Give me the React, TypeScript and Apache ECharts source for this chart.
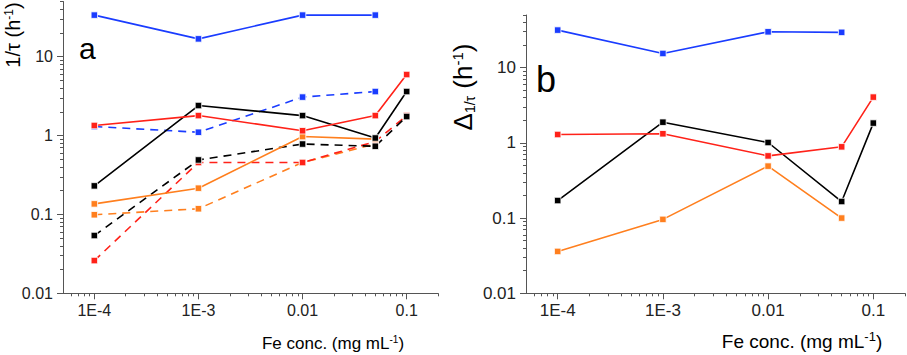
import React, { useEffect, useRef } from "react";
import * as echarts from "echarts";

// Fe concentration (mg/mL)
const conc = [1e-4, 1e-3, 0.01, 0.05, 0.1];

// tick values / labels
const xMajorTicks = [1e-4, 1e-3, 0.01, 0.1];
const xTickLabels = ["1E-4", "1E-3", "0.01", "0.1"];
const xMinorTicks = [6e-5, 7e-5, 8e-5, 9e-5, 2e-4, 3e-4, 4e-4, 5e-4, 6e-4, 7e-4, 8e-4, 9e-4, 2e-3, 3e-3, 4e-3, 5e-3, 6e-3, 7e-3, 8e-3, 9e-3, 0.02, 0.03, 0.04, 0.05, 0.06, 0.07, 0.08, 0.09, 0.2];
const yMajorTicks = [0.01, 0.1, 1, 10];
const yTickLabels = ["0.01", "0.1", "1", "10"];
const yMinorTicks = [0.02, 0.03, 0.04, 0.05, 0.06, 0.07, 0.08, 0.09, 0.2, 0.3, 0.4, 0.5, 0.6, 0.7, 0.8, 0.9, 2, 3, 4, 5, 6, 7, 8, 9, 20, 30, 40, 50];

// panel a : 1/tau (h^-1)
const aBlueSolid = [33.6, 16.8, 33.6, 33.6, null];
const aBlueDash = [1.3, 1.1, 3.07, 3.61, null];
const aRedSolid = [1.34, 1.79, 1.15, 1.79, 5.93];
const aRedDash = [0.026, 0.455, 0.455, 0.84, 1.79];
const aBlackSolid = [0.23, 2.4, 1.79, 0.93, 3.61];
const aBlackDash = [0.054, 0.49, 0.78, 0.73, 1.74];
const aOrangeSolid = [0.136, 0.215, 0.97, 0.9, null];
const aOrangeDash = [0.099, 0.118, 0.455, 0.78, null];

// panel b : delta 1/tau (h^-1)
const bBlue = [31.5, 15.4, 29.9, 29.4, null];
const bRed = [1.29, 1.32, 0.67, 0.885, 4.05];
const bBlack = [0.171, 1.88, 1.01, 0.166, 1.83];
const bOrange = [0.036, 0.096, 0.49, 0.1, null];

const BLUE = "#1a3cff";
const RED = "#ff2219";
const BLACK = "#000000";
const ORANGE = "#ff7f1e";
const FONT = "Liberation Sans";
const AXIS = "#555555";
const TEXT = "#222222";

function fmt(labels: string[], base: number) {
  return (v: number) => {
    const k = Math.round(Math.log10(v)) - base;
    return labels[k] ?? "";
  };
}

function makeLine(vals: (number | null)[], color: string, dashed: boolean, axisIdx: number) {
  const data: [number, number][] = [];
  conc.forEach((c, i) => {
    const v = vals[i];
    if (v != null) data.push([c, v]);
  });
  return {
    type: "line",
    xAxisIndex: axisIdx,
    yAxisIndex: axisIdx,
    data,
    symbol: "rect",
    symbolSize: 6.5,
    itemStyle: { color, borderColor: "#ffffff", borderWidth: 0.8 },
    lineStyle: { color, width: 1.6, type: dashed ? [8, 6] : "solid" },
    emphasis: { disabled: true },
  };
}

function xAxes(gridIndex: number, labelSize: number) {
  return [
    {
      type: "log",
      gridIndex,
      min: 5e-5,
      max: 0.2,
      position: "bottom",
      axisLine: { show: true, lineStyle: { color: AXIS, width: 1 } },
      axisTick: { show: true, customValues: xMajorTicks, length: 6, inside: false, lineStyle: { color: AXIS } },
      axisLabel: {
        customValues: xMajorTicks,
        formatter: fmt(xTickLabels, -4),
        fontFamily: FONT,
        fontSize: labelSize,
        color: TEXT,
        margin: 9,
      },
      splitLine: { show: false },
      minorTick: { show: false },
    },
    {
      type: "log",
      gridIndex,
      min: 5e-5,
      max: 0.2,
      position: "bottom",
      axisLine: { show: false },
      axisTick: { show: true, customValues: xMinorTicks, length: 3, inside: false, lineStyle: { color: AXIS } },
      axisLabel: { show: false },
      splitLine: { show: false },
    },
  ];
}

function yAxes(gridIndex: number, labelSize: number) {
  return [
    {
      type: "log",
      gridIndex,
      min: 0.01,
      max: 50,
      position: "left",
      axisLine: { show: true, lineStyle: { color: AXIS, width: 1 } },
      axisTick: { show: true, customValues: yMajorTicks, length: 6, inside: false, lineStyle: { color: AXIS } },
      axisLabel: {
        customValues: yMajorTicks,
        formatter: fmt(yTickLabels, -2),
        fontFamily: FONT,
        fontSize: labelSize,
        color: TEXT,
        margin: 10,
      },
      splitLine: { show: false },
    },
    {
      type: "log",
      gridIndex,
      min: 0.01,
      max: 50,
      position: "left",
      axisLine: { show: false },
      axisTick: { show: true, customValues: yMinorTicks, length: 3, inside: false, lineStyle: { color: AXIS } },
      axisLabel: { show: false },
      splitLine: { show: false },
    },
  ];
}

export default function App() {
  const ref = useRef<HTMLDivElement>(null);
  useEffect(() => {
    if (!ref.current) return;
    const chart = echarts.init(ref.current, null, { renderer: "svg" });
    chart.setOption({
      animation: false,
      backgroundColor: "#ffffff",
      grid: [
        { left: 63, top: 1.5, width: 375, height: 291.8 },
        { left: 526, top: 15, width: 379, height: 278.3 },
      ],
      xAxis: [...xAxes(0, 16), ...xAxes(1, 17)],
      yAxis: [...yAxes(0, 16), ...yAxes(1, 17)],
      series: [
        makeLine(aOrangeDash, ORANGE, true, 0),
        makeLine(aRedDash, RED, true, 0),
        makeLine(aBlackDash, BLACK, true, 0),
        makeLine(aBlueDash, BLUE, true, 0),
        makeLine(aOrangeSolid, ORANGE, false, 0),
        makeLine(aBlackSolid, BLACK, false, 0),
        makeLine(aRedSolid, RED, false, 0),
        makeLine(aBlueSolid, BLUE, false, 0),
        makeLine(bOrange, ORANGE, false, 2),
        makeLine(bBlack, BLACK, false, 2),
        makeLine(bRed, RED, false, 2),
        makeLine(bBlue, BLUE, false, 2),
      ],
      graphic: [
        {
          type: "text",
          x: 79,
          y: 48,
          style: { text: "a", fontFamily: FONT, fontSize: 30, fill: "#000", verticalAlign: "middle" },
        },
        {
          type: "text",
          x: 536,
          y: 79,
          style: { text: "b", fontFamily: FONT, fontSize: 36, fill: "#000", verticalAlign: "middle" },
        },
        {
          type: "text",
          x: 13,
          y: 35,
          rotation: Math.PI / 2,
          style: {
            text: "{n|1/τ (h}{s|-1}{n|)}",
            align: "center",
            verticalAlign: "middle",
            rich: {
              n: { fontSize: 20, fontFamily: FONT, color: TEXT, lineHeight: 26 },
              s: { fontSize: 12, fontFamily: FONT, color: TEXT, lineHeight: 26, padding: [0, 0, 8, 0] },
            },
          },
        },
        {
          type: "text",
          x: 463,
          y: 87,
          rotation: Math.PI / 2,
          style: {
            text: "{n|Δ}{b|1/τ}{n| (h}{s|-1}{n|)}",
            align: "center",
            verticalAlign: "middle",
            rich: {
              n: { fontSize: 26, fontFamily: FONT, color: TEXT, lineHeight: 32 },
              b: { fontSize: 14, fontFamily: FONT, color: TEXT, lineHeight: 32, padding: [13, 0, 0, 0] },
              s: { fontSize: 15, fontFamily: FONT, color: TEXT, lineHeight: 32, padding: [0, 0, 11, 0] },
            },
          },
        },
        {
          type: "text",
          x: 333,
          y: 343,
          style: {
            text: "{n|Fe conc. (mg mL}{s|-1}{n|)}",
            align: "center",
            verticalAlign: "middle",
            rich: {
              n: { fontSize: 17, fontFamily: FONT, color: TEXT, lineHeight: 22 },
              s: { fontSize: 10, fontFamily: FONT, color: TEXT, lineHeight: 22, padding: [0, 0, 8, 0] },
            },
          },
        },
        {
          type: "text",
          x: 802,
          y: 341,
          style: {
            text: "{n|Fe conc. (mg mL}{s|-1}{n|)}",
            align: "center",
            verticalAlign: "middle",
            rich: {
              n: { fontSize: 19, fontFamily: FONT, color: TEXT, lineHeight: 24 },
              s: { fontSize: 13, fontFamily: FONT, color: TEXT, lineHeight: 24, padding: [0, 0, 10, 0] },
            },
          },
        },
      ],
    });
    return () => chart.dispose();
  }, []);
  return <div ref={ref} style={{ position: "fixed", left: 0, top: 0, width: 907, height: 355 }} />;
}
